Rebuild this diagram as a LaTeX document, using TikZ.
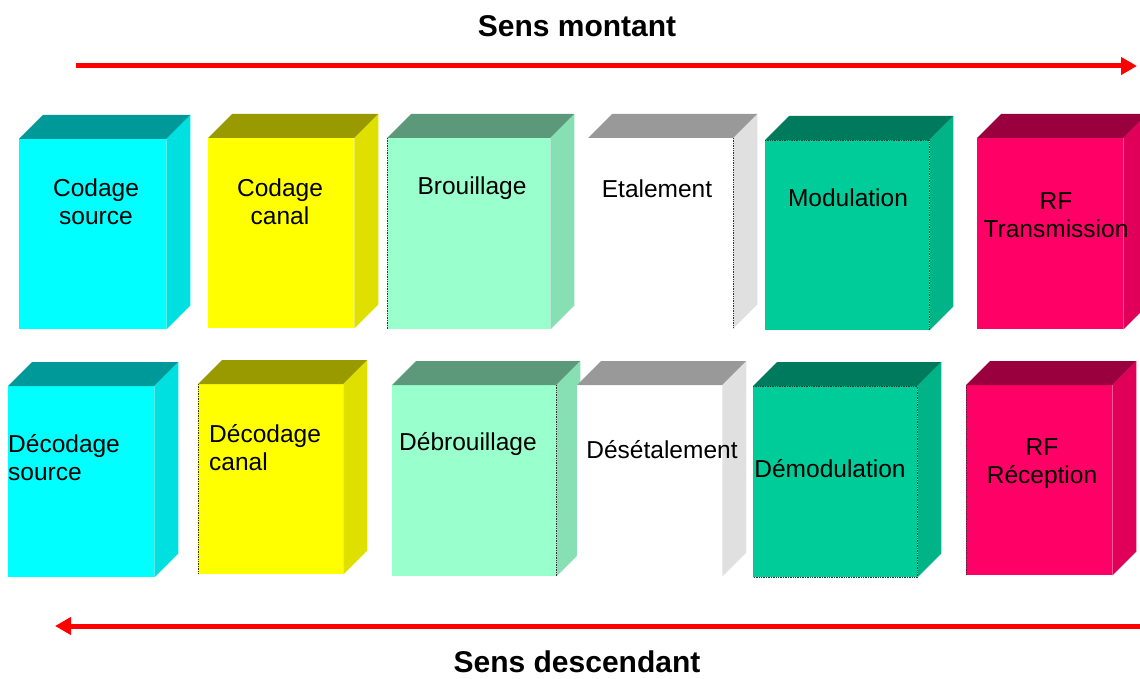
\documentclass[tikz,border=0pt]{standalone}
\usepackage{fontspec}
\setmainfont{Liberation Sans}
\usetikzlibrary{arrows.meta,calc}
\definecolor{bxcyan}{HTML}{00FFFF}
\definecolor{bxyellow}{HTML}{FFFF00}
\definecolor{bxmint}{HTML}{99FFCC}
\definecolor{bxwhite}{HTML}{FFFFFF}
\definecolor{bxgreen}{HTML}{00CC99}
\definecolor{bxpink}{HTML}{FF0066}
\definecolor{flowred}{HTML}{FF0000}

\begin{document}
\begin{tikzpicture}[x=1pt,y=-1pt]
	\def \depth{24}
	\tikzstyle{frontface}=[inner sep=0pt,anchor=north west,draw=none]
	\tikzstyle{boxtext}=[font=\fontsize{24.5}{28}\selectfont,inner sep=0pt,align=center,anchor=base]
	\tikzstyle{heading}=[font=\fontsize{30}{34}\selectfont\bfseries,inner sep=0pt,anchor=base]
	\tikzstyle{flow}=[line width=5pt,draw=flowred,-{Triangle[length=16pt,width=17pt]}]
	\tikzstyle{seam}=[densely dotted,line width=0.7pt,draw=black!80]
	\useasboundingbox (0,0) rectangle (1140,679);

	% direction arrows
	\node[heading] (up-title) at (577,37) {Sens montant};
	\coordinate (up-start) at (76,66);
	\coordinate (up-end) at (1137,66);
	\draw[flow] (up-start) -- (up-end);

	\node[heading] (down-title) at (577,672) {Sens descendant};
	\coordinate (down-start) at (1140,626);
	\coordinate (down-end) at (55,626);
	\draw[flow] (down-start) -- (down-end);

	% boxes: front face, then top and side
	\foreach \b/\x/\y/\w/\h/\c in {
		cs/19/139/147/190/bxcyan, cc/208/138/146/190/bxyellow,
		br/387/138/163/191/bxmint, et/588/138/145/190/bxwhite,
		mo/765/140/164/190/bxgreen, rt/977/138/146/191/bxpink,
		ds/8/386/146/191/bxcyan, dc/198/384/145/190/bxyellow,
		db/392/385/164/191/bxmint, de/577/385/145/191/bxwhite,
		dm/753/386/164/191/bxgreen, rr/966/385/146/190/bxpink}{
		\node[frontface,fill=\c,minimum width=\w pt,minimum height=\h pt] (\b) at (\x,\y) {};
		\fill[fill=\c!60!black] (\b.north west) -- ($(\b.north west)+(\depth,-\depth)$)
			-- ($(\b.north east)+(\depth,-\depth)$) -- (\b.north east) -- cycle;
		\fill[fill=\c!88!black] (\b.north east) -- ($(\b.north east)+(\depth,-\depth)$)
			-- ($(\b.south east)+(\depth,-\depth)$) -- (\b.south east) -- cycle;
	}

	% upper row
	\node[boxtext] (cs-text) at (96,224) {Codage\\source};
	\node[boxtext] (cc-text) at (280,224) {Codage\\canal};
	\node[boxtext] (br-text) at (472,195) {Brouillage};
	\node[boxtext] (et-text) at (657,197) {Etalement};
	\node[boxtext] (mo-text) at (848,207) {Modulation};
	\node[boxtext] (rt-text) at (1056,237) {RF\\Transmission};

	% lower row
	\node[boxtext,anchor=base west,align=left] (ds-text) at (8,480) {Décodage\\source};
	\node[boxtext,anchor=base west,align=left] (dc-text) at (209,470) {Décodage\\canal};
	\node[boxtext] (db-text) at (468,450) {Débrouillage};
	\node[boxtext] (de-text) at (662,458) {Désétalement};
	\node[boxtext] (dm-text) at (830,477) {Démodulation};
	\node[boxtext] (rr-text) at (1042,483) {RF\\Réception};

	% dotted edges
	\draw[seam] (br.north west) -- (br.south west);
	\draw[seam] (et.north east) -- (et.south east);
	\draw[seam] (mo.north west) -- (mo.north east) -- (mo.south east);
	\draw[seam] (dc.north west) -- (dc.south west);
	\draw[seam] (db.north east) -- (db.south east);
	\draw[seam] (dm.north west) -- (dm.north east) -- (dm.south east) -- (dm.south west);
	\draw[seam] (rr.north west) -- (rr.south west);
\end{tikzpicture}
\end{document}
